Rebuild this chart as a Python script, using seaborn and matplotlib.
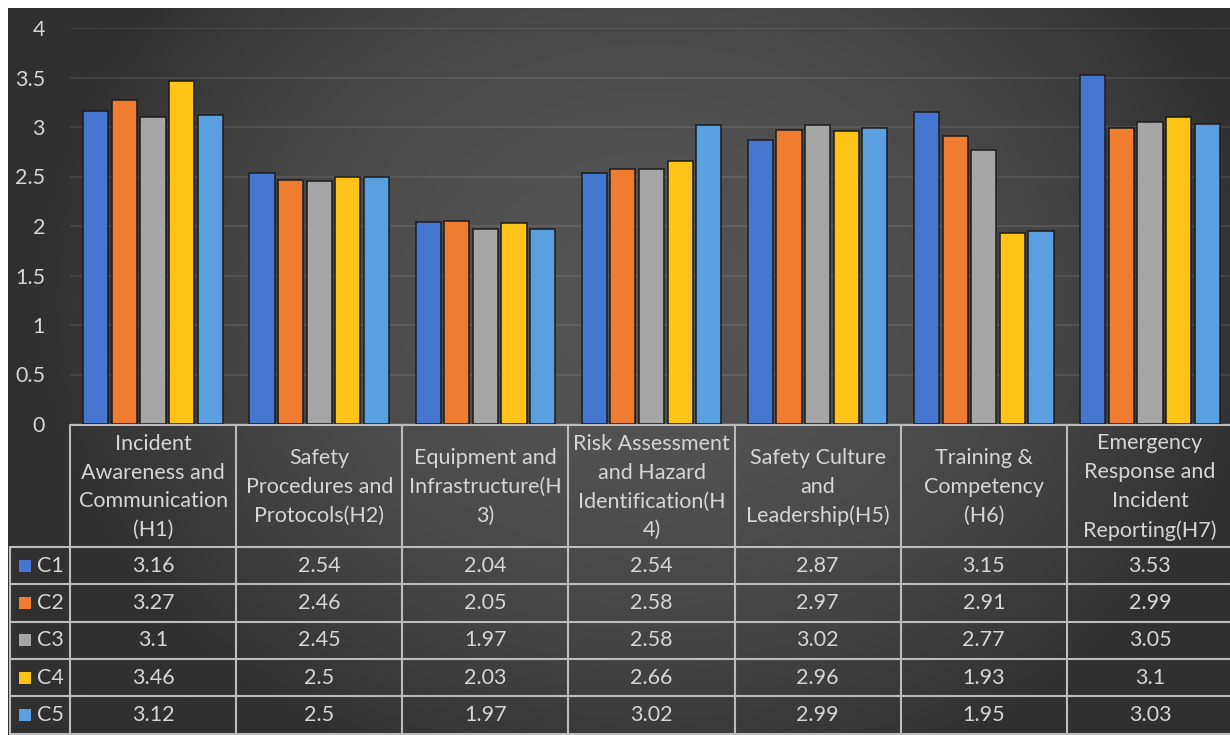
import numpy as np
import pandas as pd
import matplotlib
matplotlib.use("Agg")
import matplotlib.pyplot as plt
from matplotlib.patches import Rectangle
import seaborn as sns

# ---- data ----
categories = [
    "Incident\nAwareness and\nCommunication\n(H1)",
    "Safety\nProcedures and\nProtocols(H2)",
    "Equipment and\nInfrastructure(H\n3)",
    "Risk Assessment\nand Hazard\nIdentification(H\n4)",
    "Safety Culture\nand\nLeadership(H5)",
    "Training &\nCompetency\n(H6)",
    "Emergency\nResponse and\nIncident\nReporting(H7)",
]
series = ["C1", "C2", "C3", "C4", "C5"]
c1 = [3.16, 2.54, 2.04, 2.54, 2.87, 3.15, 3.53]
c2 = [3.27, 2.46, 2.05, 2.58, 2.97, 2.91, 2.99]
c3 = [3.10, 2.45, 1.97, 2.58, 3.02, 2.77, 3.05]
c4 = [3.46, 2.50, 2.03, 2.66, 2.96, 1.93, 3.10]
c5 = [3.12, 2.50, 1.97, 3.02, 2.99, 1.95, 3.03]
cell_text = [
    ["3.16", "2.54", "2.04", "2.54", "2.87", "3.15", "3.53"],
    ["3.27", "2.46", "2.05", "2.58", "2.97", "2.91", "2.99"],
    ["3.1", "2.45", "1.97", "2.58", "3.02", "2.77", "3.05"],
    ["3.46", "2.5", "2.03", "2.66", "2.96", "1.93", "3.1"],
    ["3.12", "2.5", "1.97", "3.02", "2.99", "1.95", "3.03"],
]
y_ticks = [0, 0.5, 1, 1.5, 2, 2.5, 3, 3.5, 4]
y_tick_labels = ["0", "0.5", "1", "1.5", "2", "2.5", "3", "3.5", "4"]

palette = ["#4677d0", "#f07c30", "#a6a6a6", "#fdc316", "#5a9fe0"]
text_col = "#d6d6d6"
line_col = "#bcbcbc"
fs = 15.5

values = [c1, c2, c3, c4, c5]
df = pd.DataFrame(
    [(cat, s, v[i]) for s, v in zip(series, values) for i, cat in enumerate(categories)],
    columns=["category", "series", "score"],
)

sns.set_theme(style="dark")
plt.rcParams["font.family"] = ["Lato", "DejaVu Sans"]

W, H = 1230, 735
fig = plt.figure(figsize=(W / 100, H / 100), dpi=100, facecolor="white")

# full-figure canvas in pixel units (y downward) for background and table
bg = fig.add_axes([0, 0, 1, 1], zorder=0)
bg.set_xlim(0, W)
bg.set_ylim(H, 0)
bg.axis("off")

# soft radial background, lighter towards the upper middle
gx = np.linspace(8, W, 400)[None, :]
gy = np.linspace(8, H, 240)[:, None]
r2 = ((gx - 650) / 600) ** 2 + ((gy - 300) / 500) ** 2
shade = np.clip(84 - 34 * r2, 48, 90) / 255.0
bg.imshow(np.dstack([shade, shade, shade]), extent=(8, W, H, 8), aspect="auto",
          interpolation="bicubic", zorder=0)

# bar area
x0, x1 = 70, 1233
y_top, y_zero = 28, 424
ax = fig.add_axes([x0 / W, (H - y_zero) / H, (x1 - x0) / W, (y_zero - y_top) / H], zorder=2)
ax.set_facecolor("none")
sns.barplot(data=df, x="category", y="score", hue="series", order=categories,
            hue_order=series, palette=palette, saturation=1, width=0.86, gap=0.12,
            edgecolor="#1c1c1c", linewidth=1.1, legend=False, ax=ax)
ax.set_xlim(-0.5, len(categories) - 0.5)
ax.set_ylim(0, 4)
ax.set_yticks(y_ticks)
ax.set_yticklabels(y_tick_labels, color=text_col, fontsize=fs)
ax.tick_params(axis="y", length=0, pad=18)
ax.set_xticks([])
ax.set_xlabel("")
ax.set_ylabel("")
ax.grid(axis="y", color="white", alpha=0.1, linewidth=1.2)
ax.grid(axis="x", visible=False)
ax.set_axisbelow(True)
for sp in ax.spines.values():
    sp.set_visible(False)

# data table under the bars
ncat = len(categories)
col_w = (x1 - x0) / ncat
col_edges = [x0 + i * col_w for i in range(ncat + 1)]
head_top, head_bot = y_zero + 1, 547
row_h = 37.3
row_edges = [head_bot + r * row_h for r in range(len(series) + 1)]
left_edge = 10
lw = 1.5

for xe in col_edges:
    bg.plot([xe, xe], [head_top, row_edges[-1]], color=line_col, lw=lw, zorder=3)
bg.plot([left_edge, left_edge], [head_bot, row_edges[-1]], color=line_col, lw=lw, zorder=3)
bg.plot([x0, x1], [head_top, head_top], color=line_col, lw=lw, zorder=3)
for ye in row_edges:
    bg.plot([left_edge, x1], [ye, ye], color=line_col, lw=lw, zorder=3)

for i, cat in enumerate(categories):
    cx = (col_edges[i] + col_edges[i + 1]) / 2
    bg.text(cx, (head_top + head_bot) / 2 + 1, cat, ha="center", va="center",
            color=text_col, fontsize=fs, linespacing=1.55, zorder=4)

for r, s in enumerate(series):
    cy = (row_edges[r] + row_edges[r + 1]) / 2
    bg.add_patch(Rectangle((19, cy - 6), 12, 12, facecolor=palette[r],
                           edgecolor="none", zorder=4))
    bg.text(37, cy, s, ha="left", va="center", color=text_col, fontsize=fs, zorder=4)
    for i in range(ncat):
        cx = (col_edges[i] + col_edges[i + 1]) / 2
        bg.text(cx, cy, cell_text[r][i], ha="center", va="center",
                color=text_col, fontsize=fs, zorder=4)

fig.savefig("out.png", dpi=100, facecolor=fig.get_facecolor())
